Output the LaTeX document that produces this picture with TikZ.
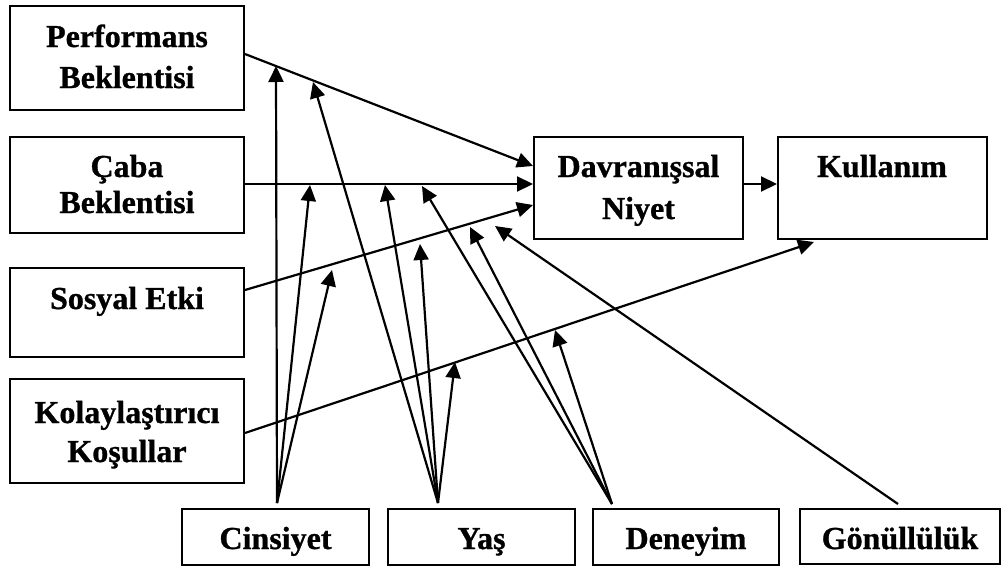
\documentclass[tikz,border=0pt]{standalone}
\usepackage{fontspec}
\setmainfont{Liberation Serif}[BoldFeatures={FakeBold=0.9}]
\usetikzlibrary{arrows.meta,calc}

\begin{document}
\begin{tikzpicture}[x=1pt,y=-1pt,
  every node/.style={font=\fontsize{32}{40}\selectfont\bfseries},
  box/.style={draw,line width=2pt,inner sep=0pt},
  txt/.style={inner sep=0pt,anchor=base},
  arr/.style={line width=2.2pt,-{Triangle[length=16pt,width=15pt]}}]
\useasboundingbox (0,0) rectangle (1002,568);

% constructs on the left
\node[box,minimum width=234pt,minimum height=104pt] (pe) at (127,58) {};
\node[box,minimum width=234pt,minimum height=96pt]  (cb) at (127,185) {};
\node[box,minimum width=234pt,minimum height=89pt]  (se) at (127,312.5) {};
\node[box,minimum width=234pt,minimum height=104pt] (kk) at (127,431) {};

% intention and use
\node[box,minimum width=209pt,minimum height=102pt] (dn) at (638.5,188) {};
\node[box,minimum width=209pt,minimum height=102pt] (ku) at (882.5,188) {};

% moderators
\node[box,minimum width=187pt,minimum height=56pt] (ci) at (275.5,537) {};
\node[box,minimum width=187pt,minimum height=56pt] (ya) at (481.5,537) {};
\node[box,minimum width=186pt,minimum height=56pt] (de) at (686,537) {};
\node[box,minimum width=200pt,minimum height=55pt] (go) at (900,536) {};

% box texts, placed on their baselines
\node[txt] (pe1) at (127,47) {Performans};
\node[txt] (pe2) at (127,88) {Beklentisi};
\node[txt] (cb1) at (127,177) {Çaba};
\node[txt] (cb2) at (127,213) {Beklentisi};
\node[txt] (se1) at (127,309) {Sosyal Etki};
\node[txt] (kk1) at (127,423) {Kolaylaştırıcı};
\node[txt] (kk2) at (127,462) {Koşullar};
\node[txt] (dn1) at (638.5,177) {Davranışsal};
\node[txt] (dn2) at (638.5,219) {Niyet};
\node[txt] (ku1) at (882,177) {Kullanım};
\node[txt] (ci1) at (275.5,549) {Cinsiyet};
\node[txt] (ya1) at (481.5,549) {Yaş};
\node[txt] (de1) at (686,549) {Deneyim};
\node[txt] (go1) at (900,549) {Gönüllülük};

% starting points of the moderator arrows
\coordinate (ciA) at (277,503);
\coordinate (yaA) at (438,503);
\coordinate (deA) at (612,504);
\coordinate (goA) at (898,504);

% main paths
\coordinate (peS) at ($(pe.east)+(0,-4)$);
\coordinate (peE) at ($(dn.west)+(0,-22)$);
\coordinate (seS) at ($(se.east)+(0,-22.5)$);
\coordinate (seE) at ($(dn.west)+(0,17)$);
\coordinate (kkS) at ($(kk.east)+(0,2)$);
\coordinate (kkE) at ($(ku.south west)+(37,2)$);
\draw[arr] (peS) -- (peE);
\draw[arr] ($(cb.east)+(0,-1)$) -- ($(dn.west)+(0,-4)$);
\draw[arr] (seS) -- (seE);
\draw[arr] (kkS) -- (kkE);
\draw[arr] ($(dn.east)+(0,-4)$) -- ($(ku.west)+(0,-4)$);

% targets of the moderator arrows
\coordinate (t1) at (276,66);
\coordinate (t2) at (310,185);
\coordinate (t3) at (332,270);
\coordinate (t4) at (313,82);
\coordinate (t5) at (385,185);
\coordinate (t6) at (420,244);
\coordinate (t7) at (455,362);
\coordinate (t8) at (422,186);
\coordinate (t9) at (470,227);
\coordinate (t10) at (555,330);
\coordinate (t11) at (495,226);

\draw[arr] (ciA) -- (t1);
\draw[arr] (ciA) -- (t2);
\draw[arr] (ciA) -- (t3);
\draw[arr] (yaA) -- (t4);
\draw[arr] (yaA) -- (t5);
\draw[arr] (yaA) -- (t6);
\draw[arr] (yaA) -- (t7);
\draw[arr] (deA) -- (t8);
\draw[arr] (deA) -- (t9);
\draw[arr] (deA) -- (t10);
\draw[arr] (goA) -- (t11);
\end{tikzpicture}
\end{document}
